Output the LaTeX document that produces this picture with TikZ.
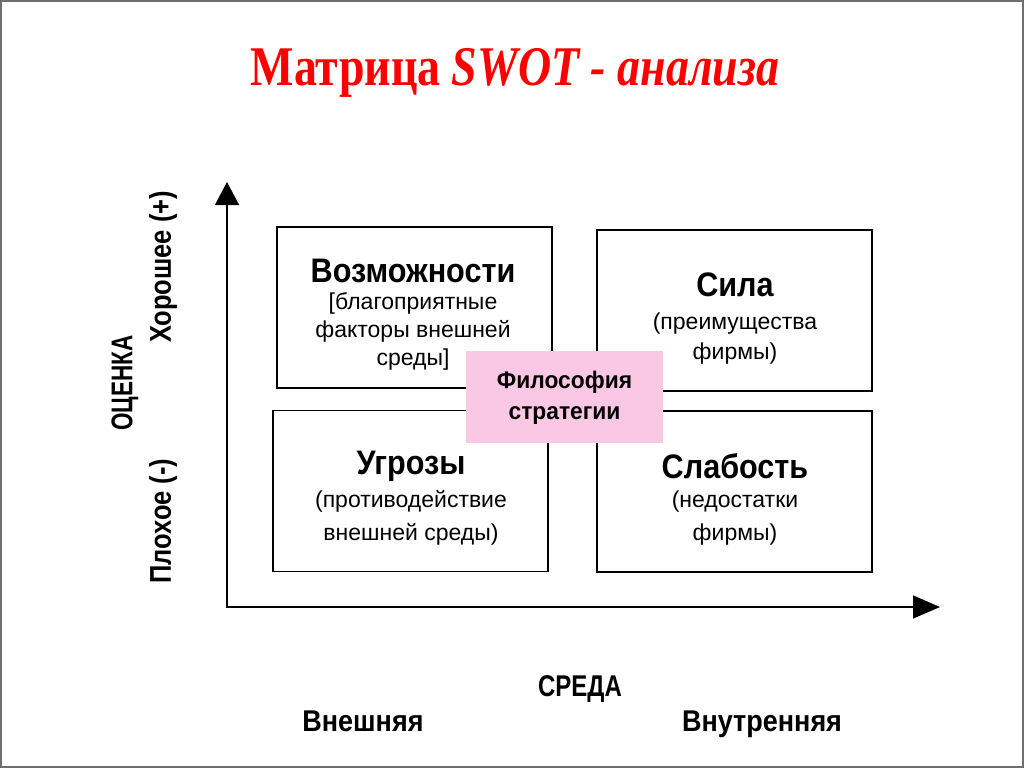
\documentclass[tikz,border=0pt]{standalone}
\usepackage{fontspec}
\setmainfont{Liberation Sans}
\newfontfamily\titlefont{Liberation Serif}
\usetikzlibrary{arrows.meta,calc}
\definecolor{pinkbg}{RGB}{250,200,228}
\definecolor{framegray}{RGB}{110,110,110}
\newcommand{\sq}[2][0.9]{\scalebox{#1}[1]{#2}}
\tikzset{
    quad/.style =   {rectangle,
                    fill=white,
                    draw=black,
                    line width=1.6pt,
                    minimum width=275pt,
                    minimum height=161pt,
                    inner sep=0pt},
    philbox/.style = {rectangle,
                    fill=pinkbg,
                    minimum width=197pt,
                    minimum height=92pt,
                    inner sep=0pt},
    head/.style =   {inner sep=0pt,
                    font=\fontsize{34}{36}\selectfont\bfseries},
    body/.style =   {inner sep=0pt,
                    align=center,
                    font=\fontsize{23}{28}\selectfont},
    axlabel/.style = {inner sep=0pt,
                    font=\fontsize{30}{32}\selectfont\bfseries},
    axis/.style =   {line width=1.6pt,
                    {Triangle[length=23pt,width=24pt]}-{Triangle[length=27pt,width=23pt]}}
}
\begin{document}
\begin{tikzpicture}[x=1pt,y=-1pt]
    \useasboundingbox (0,0) rectangle (1024,768);
    \draw[framegray, line width=2pt] (1,1) rectangle (1023,767);
    % title
    \node[text=red, inner sep=0pt] (title) at (515,73)
        {\sq[0.82]{\titlefont\fontsize{56}{60}\selectfont\bfseries Матрица \itshape SWOT - анализа}};
    % axes
    \coordinate (O)    at (227,607);
    \coordinate (ytop) at (227,182);
    \coordinate (xend) at (940,607);
    \draw[axis] (ytop) -- (O) -- (xend);
    % quadrants
    \node[quad] (pos)  at (414.5,307.5) {};
    \node[quad] (str)  at (734.5,310.5) {};
    \node[quad] (thr)  at (410.5,491)   {};
    \node[quad] (weak) at (734.5,491.5) {};
    \node[philbox] (phil) at (564.5,397) {};
    \node[head] (posH)  at (413,271) {\sq{Возможности}};
    \node[body] (posB)  at (413,331) {[благоприятные\\факторы внешней\\среды]};
    \node[head] (strH)  at (735,285) {\sq{Сила}};
    \node[body, font=\fontsize{23}{30}\selectfont] (strB) at (735,339) {(преимущества\\фирмы)};
    \node[head] (thrH)  at (411,466) {\sq{Угрозы}};
    \node[body, font=\fontsize{23}{33}\selectfont] (thrB) at (411,518) {(противодействие\\внешней среды)};
    \node[head] (weakH) at (735,466) {\sq{Слабость}};
    \node[body, font=\fontsize{23}{33}\selectfont] (weakB) at (735,518) {(недостатки\\фирмы)};
    \node[inner sep=0pt, align=center, font=\fontsize{24}{31}\selectfont\bfseries] (philT) at (564.5,398)
        {\sq[0.95]{Философия}\\\sq[0.95]{стратегии}};
    % axis labels
    \node[axlabel, rotate=90] (ocen) at (125,383) {\sq[0.75]{ОЦЕНКА}};
    \node[axlabel, rotate=90] (good) at (163,267) {\sq[0.85]{Хорошее (+)}};
    \node[axlabel, rotate=90] (bad)  at (163,521) {\sq[0.85]{Плохое (-)}};
    \node[axlabel, anchor=base] (sreda) at (580,696) {\sq[0.8]{СРЕДА}};
    \node[axlabel, anchor=base] (ext)   at (363,731) {\sq{Внешняя}};
    \node[axlabel, anchor=base] (int)   at (762,731) {\sq{Внутренняя}};
\end{tikzpicture}
\end{document}
